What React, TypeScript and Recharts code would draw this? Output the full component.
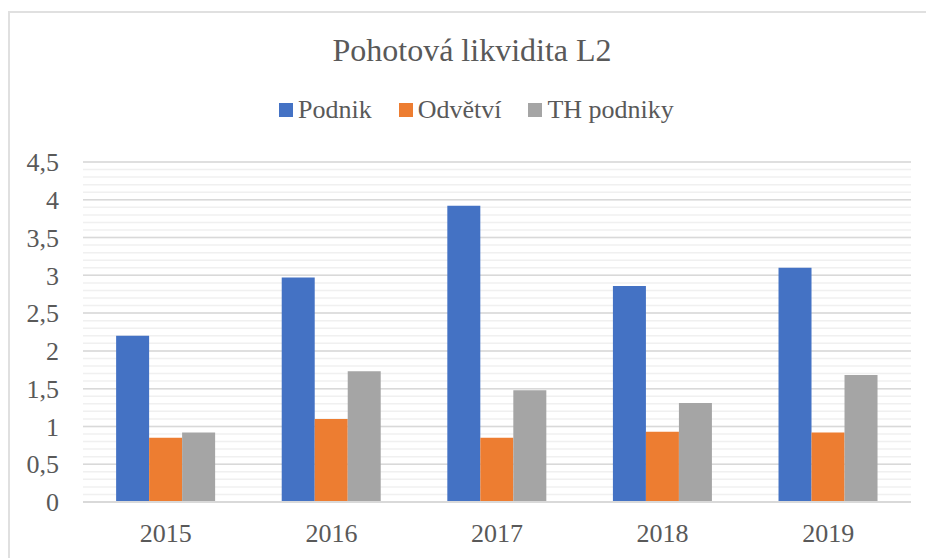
import React from 'react'
import { BarChart, Bar, XAxis, YAxis, CartesianGrid } from 'recharts'

const years = ['2015', '2016', '2017', '2018', '2019']
const podnik = [2.2, 2.97, 3.92, 2.86, 3.1]
const odvetvi = [0.85, 1.1, 0.85, 0.93, 0.92]
const thPodniky = [0.92, 1.73, 1.48, 1.31, 1.68]

const series = [
  { key: 'podnik', name: 'Podnik', color: '#4472c4' },
  { key: 'odvetvi', name: 'Odvětví', color: '#ed7d31' },
  { key: 'th', name: 'TH podniky', color: '#a5a5a5' }
]

const Y_MAX = 4.5
const majorTicks = [0, 0.5, 1, 1.5, 2, 2.5, 3, 3.5, 4, 4.5]
// minor gridlines every 0.1
const minorTicks = Array.from({ length: 46 }, (_, i) => i / 10)

const data = years.map((year, i) => ({
  year,
  podnik: podnik[i],
  odvetvi: odvetvi[i],
  th: thPodniky[i]
}))

const FONT = '"Liberation Serif", "Times New Roman", serif'
const TEXT = '#595959'

export default function App() {
  const formatTick = (v: number) => String(v).replace('.', ',')

  // pixel rows for the light minor grid
  const minorGrid = ({ offset }: any) =>
    minorTicks.map((t) => offset.top + offset.height * (1 - t / Y_MAX))

  return (
    <div
      style={{
        position: 'absolute',
        left: 0,
        top: 0,
        width: 926,
        height: 558,
        overflow: 'hidden',
        background: '#fff',
        fontFamily: FONT
      }}
    >
      {/* chart frame */}
      <div
        style={{
          position: 'absolute',
          left: 8,
          top: 11,
          width: 960,
          height: 600,
          borderLeft: '2px solid #e0e0e0',
          borderTop: '2px solid #e0e0e0'
        }}
      />

      <div
        style={{
          position: 'absolute',
          left: 0,
          width: 944,
          top: 30,
          textAlign: 'center',
          fontSize: 32,
          color: TEXT,
          lineHeight: '40px',
          fontFamily: FONT
        }}
      >
        Pohotová likvidita L2
      </div>

      <div
        style={{
          position: 'absolute',
          left: 279,
          top: 94,
          display: 'flex',
          alignItems: 'center',
          fontSize: 26,
          color: TEXT,
          lineHeight: '32px',
          fontFamily: FONT
        }}
      >
        {series.map((s) => (
          <div key={s.key} style={{ display: 'flex', alignItems: 'center', marginRight: 27 }}>
            <span style={{ width: 14, height: 14, background: s.color, marginRight: 5 }} />
            <span style={{ fontFamily: FONT }}>{s.name}</span>
          </div>
        ))}
      </div>

      <div style={{ position: 'absolute', left: 0, top: 0 }}>
        <BarChart
          width={926}
          height={558}
          data={data}
          margin={{ top: 162, right: 15, bottom: 0, left: 0 }}
          barCategoryGap="20%"
          barGap={0}
        >
          <CartesianGrid
            vertical={false}
            stroke="#f0f0f0"
            strokeWidth={1.5}
            horizontalCoordinatesGenerator={minorGrid}
          />
          <CartesianGrid vertical={false} stroke="#d9d9d9" strokeWidth={1.5} />
          <XAxis
            dataKey="year"
            height={56}
            axisLine={{ stroke: '#d9d9d9', strokeWidth: 2 }}
            tickLine={false}
            tickSize={0}
            tickMargin={22}
            tick={{ fill: TEXT, fontSize: 26, fontFamily: FONT }}
          />
          <YAxis
            width={83}
            domain={[0, Y_MAX]}
            ticks={majorTicks}
            interval={0}
            axisLine={false}
            tickLine={false}
            tickSize={0}
            tickMargin={24}
            tickFormatter={formatTick}
            tick={{ fill: TEXT, fontSize: 26, fontFamily: FONT }}
          />
          {series.map((s) => (
            <Bar
              key={s.key}
              dataKey={s.key}
              name={s.name}
              fill={s.color}
              isAnimationActive={false}
            />
          ))}
        </BarChart>
      </div>
    </div>
  )
}
